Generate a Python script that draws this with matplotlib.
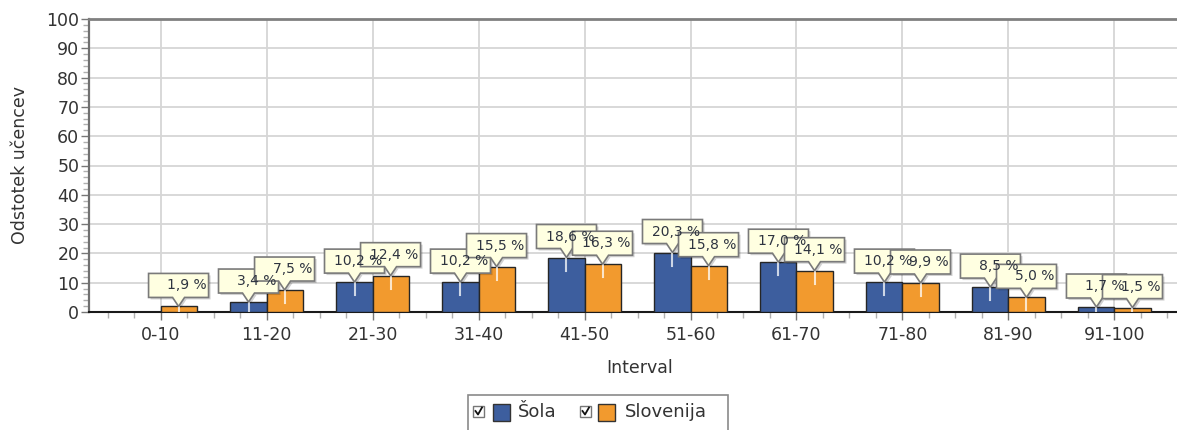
import numpy as np
import matplotlib
matplotlib.use("Agg")
import matplotlib.pyplot as plt
from matplotlib import transforms
from matplotlib.patches import Polygon, Rectangle
from matplotlib.lines import Line2D
from matplotlib.ticker import MultipleLocator

# data
intervals = ["0-10", "11-20", "21-30", "31-40", "41-50",
             "51-60", "61-70", "71-80", "81-90", "91-100"]
sola = [0.0, 3.4, 10.2, 10.2, 18.6, 20.3, 17.0, 10.2, 8.5, 1.7]
slovenija = [1.9, 7.5, 12.4, 15.5, 16.3, 15.8, 14.1, 9.9, 5.0, 1.5]
series_names = ["Šola", "Slovenija"]
colors = ["#3D5E9E", "#F29A2E"]

W, H = 1177, 430
txt_col = "#333333"
plt.rcParams["font.family"] = ["DejaVu Sans"]

fig = plt.figure(figsize=(W / 100, H / 100), dpi=100)


def fx(px):
    return px / W


def fy(py):
    return 1 - py / H


ax = fig.add_axes([fx(89), fy(312), 1 - fx(89), (312 - 19) / H])

x = np.arange(len(intervals))
bw = 0.34
bars_s = ax.bar(x - bw / 2, sola, bw, color=colors[0], edgecolor="#262626",
                linewidth=1, zorder=3)
bars_v = ax.bar(x + bw / 2, slovenija, bw, color=colors[1], edgecolor="#262626",
                linewidth=1, zorder=3)

ax.set_xlim(-0.675, 9.59)
ax.set_ylim(0, 100)
ax.set_xticks(x, intervals)
ax.xaxis.set_minor_locator(MultipleLocator(0.25))
ax.set_yticks(np.arange(0, 101, 10))
ax.yaxis.set_minor_locator(MultipleLocator(2))
ax.tick_params(axis="both", which="major", labelsize=12.5, labelcolor=txt_col,
               color="#777777", length=6, width=1)
ax.tick_params(axis="both", which="minor", color="#b0b0b0", length=4, width=1)
ax.tick_params(axis="x", which="major", pad=4)
ax.tick_params(axis="y", which="major", pad=1)

ax.grid(True, which="major", color="#d6d6d6", linewidth=1.3)
ax.set_axisbelow(True)
ax.spines["right"].set_visible(False)
ax.spines["top"].set_color("#808080")
ax.spines["top"].set_linewidth(2)
ax.spines["left"].set_color("#707070")
ax.spines["left"].set_linewidth(1.6)
ax.spines["bottom"].set_color("#1a1a1a")
ax.spines["bottom"].set_linewidth(1.5)


def callout(bar, val):
    xc = bar.get_x() + bar.get_width() / 2
    tr = transforms.Affine2D() + transforms.ScaledTranslation(xc, val, ax.transData)
    verts = [(0, 0), (6, 9), (30, 9), (30, 33), (-30, 33), (-30, 9), (-6, 9)]
    shadow = Polygon(verts, closed=True, transform=tr + transforms.Affine2D().translate(2, -2),
                     facecolor="#000000", alpha=0.18, edgecolor="none", zorder=5)
    box = Polygon(verts, closed=True, transform=tr, facecolor="#FFFFE1",
                  edgecolor="#7a7a7a", linewidth=1.2, zorder=6)
    ax.add_patch(shadow)
    ax.add_patch(box)
    label = f"{val:.1f}".replace(".", ",") + " %"
    ax.text(28, 21, label, transform=tr, ha="right", va="center",
            fontsize=10, color="#2e3440", zorder=7)
    line = Line2D([0, 0], [0, -13], transform=tr, color="white", alpha=0.75,
                  linewidth=1.5, zorder=4)
    line.set_clip_path(bar)
    ax.add_line(line)


for bars, vals in [(bars_s, sola), (bars_v, slovenija)]:
    for bar, v in zip(bars, vals):
        if v > 0:
            callout(bar, v)

fig.text(fx(20), fy(165), "Odstotek učencev", rotation=90, ha="center",
         va="center", fontsize=12.5, color=txt_col)
fig.text(fx(640), fy(368), "Interval", ha="center", va="center",
         fontsize=12.5, color=txt_col)

# legend drawn by hand (checkboxes + swatches)
fig.patches.append(Rectangle((fx(468), fy(440)), fx(728) - fx(468), fy(395) - fy(440),
                             transform=fig.transFigure, facecolor="white",
                             edgecolor="#8a8a8a", linewidth=1.2))
items = [(473, 493, 518), (580, 598, 625)]
for (cbx, swx, tx), name, col in zip(items, series_names, colors):
    fig.patches.append(Rectangle((fx(cbx), fy(417)), fx(11), 11 / H,
                                 transform=fig.transFigure, facecolor="white",
                                 edgecolor="#777777", linewidth=1))
    fig.lines.append(Line2D([fx(cbx + 2.5), fx(cbx + 5), fx(cbx + 9)],
                            [fy(411), fy(414.5), fy(407.5)],
                            transform=fig.transFigure, color="#111111", linewidth=1.3))
    fig.patches.append(Rectangle((fx(swx), fy(421)), fx(17), 17 / H,
                                 transform=fig.transFigure, facecolor=col,
                                 edgecolor="#333333", linewidth=1))
    fig.text(fx(tx), fy(412), name, ha="left", va="center", fontsize=13,
             color=txt_col)

fig.savefig("out.png", dpi=100)
